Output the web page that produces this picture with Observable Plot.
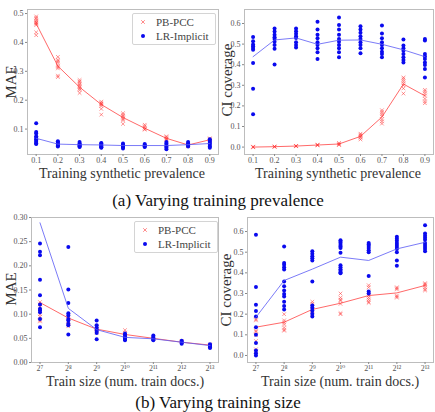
<!DOCTYPE html>
<html>
<head>
<meta charset="utf-8">
<script src="https://cdn.jsdelivr.net/npm/d3@7"></script>
<script src="https://cdn.jsdelivr.net/npm/@observablehq/plot@0.6"></script>
<style>
  body { margin: 0; background: #fff; }
  #fig { position: relative; width: 435px; height: 412px; overflow: hidden; font-family: "Liberation Serif", "DejaVu Serif", serif; color: #222; }
  .panel { position: absolute; }
  .lab { position: absolute; white-space: nowrap; transform: translate(-50%, -50%); font-size: 14px; color: #333; }
  .ylab { transform: translate(-50%, -50%) rotate(-90deg); font-size: 15px; }
  .cap { position: absolute; white-space: nowrap; transform: translate(-50%, -50%); font-size: 17px; line-height: 17px; color: #111; }
  .legend { position: absolute; border: 1px solid #d4d4d4; border-radius: 2px; background: #fff; font-size: 11px; color: #444; padding: 1px 6px 1px 7px; line-height: 14px; }
  .legend div { display: flex; align-items: center; }
  .legend svg { margin-right: 10px; }
</style>
</head>
<body>
<div id="fig"></div>
<script>
// Training synthetic prevalence (x of the top row)
const prevalence = [0.1, 0.2, 0.3, 0.4, 0.5, 0.6, 0.7, 0.8, 0.9];
// Train size as powers of two (x of the bottom row)
const sizeExp = [7, 8, 9, 10, 11, 12, 13];

// (a) MAE vs prevalence — per-run values and means
const maePrevPB = [
  [0.49, 0.485, 0.48, 0.475, 0.47, 0.468, 0.465, 0.46, 0.435, 0.425],
  [0.35, 0.34, 0.335, 0.33, 0.32, 0.315, 0.31, 0.285, 0.28],
  [0.27, 0.265, 0.26, 0.255, 0.25, 0.245, 0.24, 0.235, 0.225],
  [0.195, 0.19, 0.188, 0.185, 0.18, 0.17, 0.15],
  [0.155, 0.15, 0.145, 0.14, 0.135, 0.13, 0.118],
  [0.115, 0.11, 0.105, 0.1, 0.098],
  [0.075, 0.072, 0.068, 0.065, 0.062],
  [0.05, 0.045, 0.042, 0.04],
  [0.068, 0.065, 0.062, 0.058]
];
const maePrevPBMean = [0.465, 0.318, 0.245, 0.185, 0.14, 0.103, 0.068, 0.045, 0.063];
const maePrevLR = [
  [0.12, 0.09, 0.085, 0.075, 0.07, 0.065, 0.06, 0.055, 0.05, 0.048],
  [0.058, 0.055, 0.05, 0.048, 0.045, 0.042, 0.04],
  [0.055, 0.05, 0.047, 0.045, 0.042, 0.04, 0.038],
  [0.052, 0.05, 0.046, 0.043, 0.04, 0.037, 0.035],
  [0.05, 0.046, 0.043, 0.04, 0.037, 0.033],
  [0.048, 0.045, 0.043, 0.04, 0.038],
  [0.055, 0.05, 0.045, 0.04, 0.035, 0.03],
  [0.055, 0.05, 0.047, 0.043, 0.04],
  [0.065, 0.06, 0.055, 0.05, 0.045, 0.04, 0.035]
];
const maePrevLRMean = [0.068, 0.048, 0.046, 0.045, 0.043, 0.043, 0.043, 0.046, 0.05];

// (a) CI coverage vs prevalence
const ciPrevPB = [
  [0.0, 0.002, -0.001],
  [0.001, 0.003, 0.002],
  [0.004, 0.006, 0.005],
  [0.008, 0.012, 0.01],
  [0.01, 0.02, 0.012, 0.016],
  [0.037, 0.045, 0.05, 0.055, 0.06, 0.065],
  [0.114, 0.125, 0.135, 0.15, 0.16, 0.17, 0.179],
  [0.26, 0.285, 0.3, 0.31, 0.32, 0.33, 0.338],
  [0.213, 0.222, 0.235, 0.25, 0.26, 0.27, 0.278]
];
const ciPrevPBMean = [0.0, 0.002, 0.005, 0.01, 0.015, 0.052, 0.146, 0.306, 0.249];
const ciPrevLR = [
  [0.535, 0.514, 0.498, 0.489, 0.481, 0.472, 0.408, 0.283, 0.16],
  [0.576, 0.561, 0.545, 0.533, 0.525, 0.512, 0.496, 0.477, 0.401],
  [0.576, 0.562, 0.55, 0.538, 0.53, 0.509, 0.496, 0.484],
  [0.608, 0.571, 0.546, 0.528, 0.509, 0.496, 0.48, 0.46, 0.428],
  [0.629, 0.593, 0.571, 0.545, 0.525, 0.512, 0.496, 0.48, 0.46, 0.436],
  [0.587, 0.571, 0.555, 0.538, 0.525, 0.509, 0.496, 0.48, 0.455],
  [0.59, 0.551, 0.528, 0.509, 0.496, 0.48, 0.463, 0.452, 0.436],
  [0.522, 0.493, 0.48, 0.468, 0.452, 0.436, 0.423, 0.411],
  [0.525, 0.517, 0.452, 0.44, 0.428, 0.411, 0.399, 0.379, 0.338]
];
const ciPrevLRMean = [0.439, 0.52, 0.53, 0.499, 0.519, 0.52, 0.499, 0.472, 0.439];

// (b) MAE vs train size
const maeSizePB = [
  [0.125, 0.12, 0.115, 0.1, 0.095, 0.087, 0.085],
  [0.095, 0.09, 0.085, 0.08, 0.075],
  [0.075, 0.07, 0.068, 0.065, 0.062],
  [0.067, 0.062, 0.058, 0.055],
  [0.051, 0.049],
  [0.044, 0.042],
  [0.037, 0.035]
];
const maeSizePBMean = [0.124, 0.092, 0.069, 0.058, 0.05, 0.042, 0.036];
const maeSizeLR = [
  [0.246, 0.229, 0.222, 0.171, 0.139, 0.12, 0.111, 0.108, 0.104, 0.09, 0.073],
  [0.239, 0.151, 0.123, 0.102, 0.097, 0.09, 0.087, 0.08, 0.077, 0.058],
  [0.087, 0.077, 0.072, 0.068, 0.065, 0.061, 0.048],
  [0.06, 0.057, 0.054, 0.052, 0.05, 0.048, 0.046],
  [0.056, 0.053, 0.05, 0.048, 0.046],
  [0.045, 0.043, 0.041, 0.039],
  [0.038, 0.036, 0.034, 0.032, 0.03]
];
const maeSizeLRMean = [0.289, 0.112, 0.068, 0.052, 0.049, 0.042, 0.035];

// (b) CI coverage vs train size
const ciSizePB = [
  [0.175, 0.17, 0.12, 0.115, 0.1, 0.07, 0.03, 0.02],
  [0.2, 0.17, 0.16, 0.15, 0.135, 0.125, 0.12],
  [0.26, 0.25, 0.24, 0.22, 0.21, 0.2],
  [0.3, 0.28, 0.27, 0.265, 0.25, 0.205, 0.2],
  [0.34, 0.33, 0.31, 0.29, 0.28, 0.27, 0.26, 0.255],
  [0.33, 0.325, 0.32, 0.29, 0.285, 0.28],
  [0.35, 0.345, 0.34, 0.33, 0.32, 0.315]
];
const ciSizePBMean = [0.137, 0.161, 0.223, 0.253, 0.29, 0.303, 0.339];
const ciSizeLR = [
  [0.584, 0.331, 0.245, 0.215, 0.189, 0.137, 0.1, 0.061, 0.024, 0.011, 0.0],
  [0.527, 0.448, 0.439, 0.427, 0.416, 0.358, 0.335, 0.315, 0.298, 0.285, 0.26, 0.239, 0.223],
  [0.505, 0.492, 0.481, 0.471, 0.46, 0.358, 0.242, 0.231, 0.218, 0.202, 0.189],
  [0.558, 0.55, 0.545, 0.535, 0.528, 0.52, 0.497, 0.437, 0.427, 0.418, 0.41, 0.403, 0.398],
  [0.545, 0.537, 0.53, 0.52, 0.51, 0.5, 0.385, 0.31, 0.3],
  [0.575, 0.565, 0.555, 0.545, 0.535, 0.525, 0.515, 0.5, 0.46, 0.435],
  [0.63, 0.59, 0.58, 0.57, 0.56, 0.545, 0.535, 0.525, 0.515, 0.505]
];
const ciSizeLRMean = [0.185, 0.363, 0.418, 0.476, 0.46, 0.516, 0.548];

const seriesNames = ["PB-PCC", "LR-Implicit"];
const RED = "#ff2a2a";
const BLUE = "#0a0aee";

const sup = {"0":"⁰","1":"¹","2":"²","3":"³","4":"⁴","5":"⁵","6":"⁶","7":"⁷","8":"⁸","9":"⁹"};
const pow2 = (e) => "2" + String(e).split("").map(c => sup[c]).join("");

const flat = (xs, groups) => groups.flatMap((g, i) => g.map(v => ({x: xs[i], y: v})));
const pairs = (xs, ys) => xs.map((x, i) => ({x, y: ys[i]}));

function panel({xs, xDomain, xTicks, xFormat, yDomain, yTicks, yFormat, pb, pbMean, lr, lrMean, left, top, mLeft, mTop, mBottom}) {
  const chart = Plot.plot({
    width: 220,
    height: 170,
    marginLeft: mLeft,
    marginRight: 2,
    marginTop: mTop,
    marginBottom: mBottom,
    style: {fontFamily: '"Liberation Serif", "DejaVu Serif", serif', fontSize: "8px", background: "transparent"},
    x: {domain: xDomain, ticks: xTicks, tickFormat: xFormat, label: null},
    y: {domain: yDomain, ticks: yTicks, tickFormat: yFormat, label: null},
    marks: [
      Plot.frame({stroke: "#bdbdbd"}),
      Plot.axisX({ticks: xTicks, tickFormat: xFormat, tickSize: 2, tickPadding: 1, stroke: "#888", fill: "#555", label: null, fontSize: 8}),
      Plot.axisY({ticks: yTicks, tickFormat: yFormat, tickSize: 2, tickPadding: 2, stroke: "#888", fill: "#555", label: null, fontSize: 8}),
      Plot.dot(flat(xs, pb), {x: "x", y: "y", symbol: "times", r: 1.8, stroke: RED, strokeOpacity: 0.5, strokeWidth: 1}),
      Plot.line(pairs(xs, pbMean), {x: "x", y: "y", stroke: RED, strokeOpacity: 0.7, strokeWidth: 1}),
      Plot.dot(flat(xs, lr), {x: "x", y: "y", r: 2, fill: BLUE, stroke: "none"}),
      Plot.line(pairs(xs, lrMean), {x: "x", y: "y", stroke: "#5a5af5", strokeOpacity: 0.8, strokeWidth: 1})
    ]
  });
  chart.classList.add("panel");
  chart.style.left = left + "px";
  chart.style.top = top + "px";
  return chart;
}

const fig = document.getElementById("fig");
const f1 = d3.format(".1f"), f2 = d3.format(".2f");

fig.appendChild(panel({
  xs: prevalence, xDomain: [0.06, 0.94], xTicks: prevalence, xFormat: f1,
  yDomain: [0.012, 0.514], yTicks: [0.1, 0.2, 0.3, 0.4, 0.5], yFormat: f1,
  pb: maePrevPB, pbMean: maePrevPBMean, lr: maePrevLR, lrMean: maePrevLRMean,
  left: 0, top: 0, mLeft: 27, mTop: 9, mBottom: 16
}));
fig.appendChild(panel({
  xs: prevalence, xDomain: [0.06, 0.94], xTicks: prevalence, xFormat: f1,
  yDomain: [-0.036, 0.668], yTicks: [0, 0.1, 0.2, 0.3, 0.4, 0.5, 0.6], yFormat: f1,
  pb: ciPrevPB, pbMean: ciPrevPBMean, lr: ciPrevLR, lrMean: ciPrevLRMean,
  left: 215, top: 0, mLeft: 29, mTop: 9, mBottom: 16
}));
fig.appendChild(panel({
  xs: sizeExp, xDomain: [6.7, 13.3], xTicks: sizeExp, xFormat: pow2,
  yDomain: [0, 0.3], yTicks: [0, 0.05, 0.1, 0.15, 0.2, 0.25, 0.3], yFormat: f2,
  pb: maeSizePB, pbMean: maeSizePBMean, lr: maeSizeLR, lrMean: maeSizeLRMean,
  left: 0, top: 205, mLeft: 31, mTop: 12, mBottom: 13
}));
fig.appendChild(panel({
  xs: sizeExp, xDomain: [6.7, 13.3], xTicks: sizeExp, xFormat: pow2,
  yDomain: [-0.034, 0.668], yTicks: [0, 0.1, 0.2, 0.3, 0.4, 0.5, 0.6], yFormat: f1,
  pb: ciSizePB, pbMean: ciSizePBMean, lr: ciSizeLR, lrMean: ciSizeLRMean,
  left: 215, top: 205, mLeft: 32, mTop: 12, mBottom: 13
}));

// Axis titles and captions
function label(text, x, y, cls) {
  const d = document.createElement("div");
  d.className = cls;
  d.textContent = text;
  d.style.left = x + "px";
  d.style.top = y + "px";
  fig.appendChild(d);
}
label("MAE", 11, 82, "lab ylab");
label("Training synthetic prevalence", 122, 174, "lab");
label("CI coverage", 227, 80, "lab ylab");
label("Training synthetic prevalence", 338, 174, "lab");
label("MAE", 11, 289, "lab ylab");
label("Train size (num. train docs.)", 125, 382, "lab");
label("CI coverage", 226, 290, "lab ylab");
label("Train size (num. train docs.)", 340, 382, "lab");
label("(a) Varying training prevalence", 218, 200, "cap");
label("(b) Varying training size", 218, 402, "cap");

// Legends
function legend(x, y) {
  const box = document.createElement("div");
  box.className = "legend";
  box.style.left = x + "px";
  box.style.top = y + "px";
  const markers = [
    `<svg width="6" height="6"><path d="M1.2,1.2L4.8,4.8M4.8,1.2L1.2,4.8" stroke="${RED}" stroke-opacity="0.55" stroke-width="1"/></svg>`,
    `<svg width="6" height="6"><circle cx="3" cy="3" r="2" fill="${BLUE}"/></svg>`
  ];
  seriesNames.forEach((name, i) => {
    const row = document.createElement("div");
    row.innerHTML = markers[i] + `<span>${name}</span>`;
    box.appendChild(row);
  });
  fig.appendChild(box);
}
legend(132, 13);
legend(134, 221);
</script>
</body>
</html>
